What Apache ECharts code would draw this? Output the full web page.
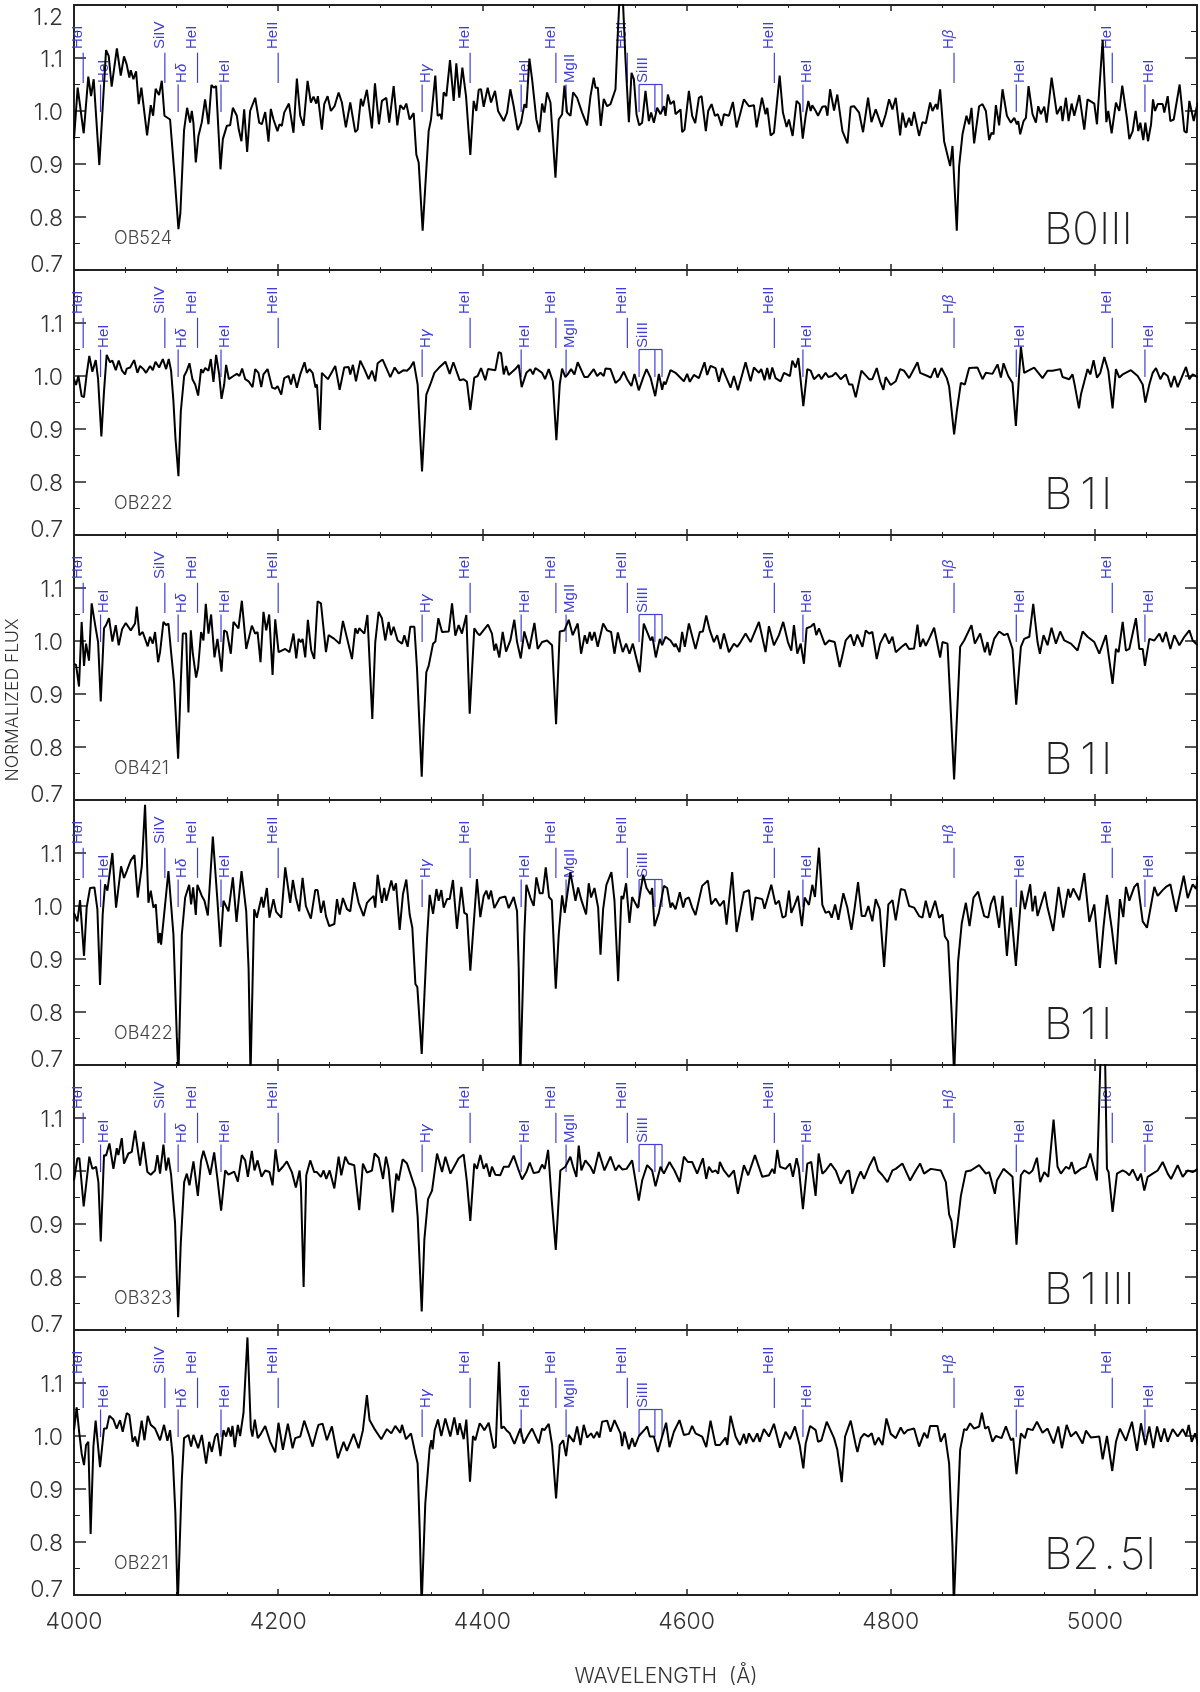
<!DOCTYPE html>
<html>
<head>
<meta charset="utf-8">
<title>Normalized spectra</title>
<style>
  html, body { margin: 0; padding: 0; background: #fff; }
  #chart { width: 1200px; height: 1692px; }
</style>
<script src="https://cdn.jsdelivr.net/npm/echarts@6/dist/echarts.min.js"></script>
</head>
<body>
<div id="chart"></div>
<script>
// spectra, [wavelength, flux]
const ob524 = [[4000,.947],[4003.6,1.044],[4009.5,.958],[4014,1.065],[4016.7,1.028],[4019.3,1.06],[4024.8,.898],[4031.4,1.115],[4034,1.104],[4036.9,1.046],[4042,1.118],[4045.8,1.067],[4049,1.103],[4051.6,1.088],[4054.2,1.063],[4055.6,1.077],[4058.2,1.06],[4060.8,1.075],[4063.4,1.013],[4066,1.044],[4071.6,.954],[4075.2,1.011],[4077.5,.991],[4080,1.042],[4083.3,1.03],[4086,1.057],[4088.6,.991],[4094.1,.984],[4098,.89],[4102.3,.777],[4104.2,.808],[4107.8,.964],[4110.8,1.006],[4113.7,.978],[4115.4,1],[4117,.977],[4119.3,.903],[4121.9,.953],[4125.2,.979],[4128.4,1.022],[4131.7,.975],[4134.6,1.049],[4136.9,1.044],[4139.2,1.047],[4143.5,.89],[4145.8,.947],[4149.7,.972],[4152.9,.973],[4155.6,1.006],[4159.5,.991],[4161.4,.965],[4164,.943],[4166.7,1.003],[4169.6,.923],[4172.5,1],[4177.5,1.025],[4181.4,.978],[4184,.975],[4187.3,.998],[4190.5,.942],[4192.8,1.004],[4195.4,.984],[4197,.987],[4199.3,.962],[4201.3,.975],[4203.6,.972],[4205.9,.997],[4210.5,1.014],[4215,.959],[4218.3,1.061],[4221.6,.991],[4224.8,.972],[4228.8,1.057],[4232,1.016],[4234.6,1.027],[4237.3,1.014],[4238.9,1.028],[4242.8,.965],[4245.1,1.013],[4248.4,1.028],[4251.6,1],[4255.2,1.009],[4259.2,1.035],[4262.4,1.016],[4266.3,.969],[4270.6,1.016],[4275.5,.96],[4277.8,.965],[4281,1.023],[4283,1.009],[4286.9,1.04],[4291.8,.967],[4294.8,1.052],[4298.7,.975],[4301.6,1.019],[4305.9,1.025],[4308.8,.978],[4313.1,1.047],[4316.7,.973],[4319.6,1.011],[4322.9,1.003],[4325.5,1.014],[4328.8,.984],[4332.7,.996],[4335.3,.918],[4337.6,.903],[4341.5,.774],[4344.1,.858],[4347.4,.962],[4349.7,.984],[4351.6,.981],[4353.9,1.067],[4356.2,.991],[4358.8,.994],[4360.1,.984],[4362.1,1.035],[4364.7,1.028],[4368.3,1.096],[4371.9,1.019],[4374.5,1.09],[4377.4,1.025],[4380.4,1.082],[4384,1.028],[4388.2,.917],[4391.5,1.019],[4394.1,1],[4396.4,1.04],[4398.7,1.041],[4401.3,1.008],[4405.2,1.044],[4408.5,1.016],[4412.4,1.038],[4415.4,1],[4420.9,.981],[4424.2,.997],[4427.4,1.041],[4430.7,1.009],[4434.6,.964],[4437.9,.978],[4441.2,1.013],[4443.1,1.006],[4446.1,1.099],[4448.7,1.06],[4452.9,.984],[4455.9,.96],[4458.5,1.014],[4460.8,.997],[4463.4,1.035],[4466.7,1.016],[4471.6,.874],[4474.8,.984],[4478.1,.994],[4480.4,1.048],[4483,.997],[4486.3,.991],[4488.9,1.035],[4492.8,1.025],[4497.7,.997],[4502.6,.973],[4505.9,1.028],[4509.1,1.063],[4510.8,1.044],[4513.1,1.044],[4516,.972],[4518.9,1.023],[4522.2,1.009],[4525.5,1.013],[4530.4,1.041],[4532.7,1.148],[4534.3,1.21],[4535.5,1.24],[4537.9,1.198],[4540.2,1.097],[4543.5,.979],[4546.1,1.072],[4548.4,1.06],[4551,.994],[4553.6,.973],[4556.5,.978],[4559.8,1.038],[4563.1,.981],[4565.3,.997],[4568,.978],[4571.2,1.006],[4574.5,.994],[4577.8,1.009],[4579.4,.991],[4581.7,1.031],[4584.3,1.013],[4587.6,1.019],[4589.2,.994],[4594.1,1.003],[4595.7,.96],[4598,.965],[4602.3,1.038],[4605.5,.991],[4608.5,.977],[4612.1,1.025],[4614.7,1.028],[4618.9,.962],[4621.2,1],[4624.5,1.013],[4627.8,.991],[4630.7,.994],[4634.3,.972],[4636.6,.994],[4641.5,.991],[4645.4,1.017],[4649,.969],[4652.9,.997],[4656.2,1.022],[4661.1,1.009],[4666,1.011],[4668.6,.969],[4673.9,1.025],[4677.4,.994],[4679.1,1.006],[4682.4,.954],[4685.6,.959],[4691.2,1.067],[4694.4,.997],[4698,.97],[4700.3,.984],[4703.9,.953],[4707.8,1.019],[4710.8,1.013],[4713.8,.948],[4716.7,.991],[4719.3,1.019],[4721.6,1],[4723.2,1.011],[4726.5,1],[4728.8,.991],[4733,1.008],[4736.3,1.009],[4738,.991],[4740.6,1.041],[4744.5,1.001],[4747.7,1.031],[4752.7,.962],[4757.6,.939],[4760.8,1.008],[4764.1,1.009],[4769,.997],[4772.9,.96],[4774.5,.96],[4777.8,1.025],[4781.1,.979],[4785.3,1.003],[4791.2,.97],[4795.1,.994],[4798.4,1.022],[4801.7,1.003],[4804.9,1.025],[4809.2,.954],[4811.5,.997],[4814.7,.969],[4818,.987],[4820.3,.972],[4822.9,.998],[4827.8,.953],[4831.1,.979],[4834.4,.977],[4838.6,1.016],[4840.9,1],[4844.2,1.013],[4845.8,1.003],[4848.4,1.041],[4852.3,.943],[4858.2,.896],[4860.5,.934],[4864.7,.774],[4867,.896],[4870.3,.956],[4874.2,.991],[4876.8,.975],[4879.1,1.006],[4881.7,.939],[4886.6,1.009],[4889.9,1.013],[4893.2,1],[4896.4,.945],[4898.7,.959],[4900.7,.956],[4903,1.011],[4906.2,.973],[4909.5,1.041],[4913.8,.991],[4917.7,.978],[4921,.987],[4923.6,.975],[4924.9,.981],[4926.8,.956],[4930.1,.981],[4932.4,.987],[4935,1.047],[4938.9,.994],[4942.2,.978],[4944.5,1.009],[4947.1,.994],[4950.4,1.008],[4952.7,.978],[4957.6,1.063],[4962.8,.994],[4966.7,1.009],[4968.3,.981],[4971.6,1.025],[4974.2,.981],[4977.2,1.014],[4979.8,.991],[4984.7,1.03],[4989.6,.965],[4992.8,1.022],[4999.4,1.014],[5002,.975],[5007.6,1.134],[5011.2,.979],[5013.1,1],[5016.4,.958],[5020.6,1.016],[5023.9,1],[5026.8,1.048],[5031.4,.986],[5033.7,.947],[5037,.962],[5039.9,1],[5042.5,.962],[5044.5,.978],[5047.4,.945],[5049.4,.978],[5052,.943],[5055,.975],[5056.9,1.022],[5058.9,1],[5061.5,1.013],[5066.4,1.013],[5068,.997],[5071.3,1.028],[5073.9,.981],[5077.2,.984],[5079.4,1.009],[5083,1.05],[5087.6,.962],[5089.9,.959],[5092.5,1.019],[5096.8,.981],[5100.7,1.016]];

const ob222 = [[4000,.994],[4002,.983],[4004.3,1],[4007.5,.962],[4009.8,.96],[4012.4,1.003],[4015,1.038],[4018,1.008],[4021.3,1.03],[4023.6,.994],[4026.8,.886],[4029.4,.971],[4032,1.04],[4035.3,1.026],[4037.6,1.029],[4040.9,1.011],[4043.8,1.029],[4047.1,1.01],[4050,1.003],[4051.7,1.014],[4055,1.016],[4058.9,1.03],[4062.1,1.006],[4064.7,1.019],[4068,1.013],[4070.6,1.006],[4074.5,1.019],[4077.2,1.011],[4079.8,1.027],[4083.4,1.016],[4087,1.032],[4090.2,1.013],[4092.8,1.032],[4095.1,1.01],[4097.4,.952],[4099.4,.882],[4102.3,.811],[4104.6,.933],[4107.9,1],[4110.5,1.01],[4113.1,1.024],[4116,.994],[4118.7,.984],[4121.6,.963],[4124.5,1.013],[4126.2,1.006],[4128.5,1.015],[4131.7,1.01],[4134,1.032],[4136.6,.989],[4139.2,1.04],[4142.2,1.003],[4144.5,.957],[4147.1,.984],[4149,1.021],[4151.7,.994],[4156.2,1],[4159.5,1.004],[4162.1,1],[4164.7,1.014],[4167.7,.994],[4171,.99],[4174.9,.979],[4177.5,1.013],[4180.7,1.006],[4183.4,.979],[4185.6,1.003],[4189.6,1.013],[4194.1,.978],[4197.1,.976],[4199.4,.981],[4203,.965],[4205.9,.996],[4210.2,1],[4212.5,.984],[4215,1.004],[4218.3,.978],[4221.6,1.003],[4225.8,1.026],[4228.1,1.006],[4230.7,1.013],[4233.7,1.006],[4236.6,.978],[4238,.984],[4240.9,.898],[4242.8,1.006],[4248.7,.994],[4255.9,1.019],[4260.2,.974],[4264.7,1.016],[4269,1.017],[4270.6,1.003],[4273.2,1.021],[4276.2,.99],[4280.4,1.029],[4284.4,1.013],[4288.6,.994],[4291.9,1.01],[4295.1,.99],[4297.4,1.024],[4302.3,1.031],[4309.8,.998],[4314.1,1.016],[4318,1.005],[4322.9,1.011],[4326.2,1.01],[4329.4,1.016],[4332.7,1.027],[4336.6,.984],[4339.2,.882],[4340.9,.82],[4342.5,.876],[4345.1,.965],[4349,.984],[4353,1.006],[4357.2,1.015],[4363.8,1.027],[4368,1.004],[4371.6,1.026],[4377.8,.992],[4381.7,.994],[4384.9,.989],[4388.2,.936],[4392.1,.997],[4395.4,1],[4398.7,1.015],[4402.9,.992],[4405.5,1.013],[4412.7,1.011],[4416,1.045],[4418.3,1.043],[4420.9,1.003],[4423.2,1.019],[4425.8,1.002],[4432.3,1.013],[4435.6,1.021],[4438.5,.979],[4443.1,1.006],[4447,1.013],[4449.6,1.003],[4451.9,1.015],[4458.5,1.006],[4461.4,.994],[4465,1.013],[4469,.99],[4472.5,.879],[4475.8,.984],[4478.1,1.014],[4481.3,.998],[4483.6,1.003],[4486.9,1.013],[4490.2,1.003],[4493.4,1.026],[4500,.998],[4503.2,.998],[4509.1,1.013],[4512.4,1],[4515.7,1.006],[4518.9,1],[4520.6,1.014],[4525.5,1.013],[4530.4,.987],[4534.6,.994],[4538.5,1.008],[4541.8,.994],[4546,.981],[4549,1.004],[4553.2,.973],[4557.5,.997],[4560.8,1.013],[4564.7,.997],[4569.3,.962],[4572.9,1.004],[4576.1,.974],[4577.8,.989],[4579.4,.984],[4584.3,1.011],[4589.2,1.006],[4597.4,.99],[4600.6,1.004],[4603.2,.989],[4607.2,1.002],[4612.1,.996],[4617.6,1.026],[4620.2,1.002],[4623.5,1.019],[4628.4,1.015],[4631.7,.989],[4635,1.015],[4643.1,.978],[4646.4,1],[4650.3,.973],[4657.8,1.026],[4662.7,.99],[4666,1.016],[4670.9,1.006],[4673.2,1.013],[4676.4,.992],[4679,1.015],[4681.4,.994],[4684,1.016],[4687.2,.996],[4692.1,.99],[4695.4,1.006],[4701.3,1],[4703.6,1.029],[4706.8,1.016],[4709.5,1.034],[4714.4,.943],[4718.3,1.013],[4721.6,1.01],[4724.8,.994],[4729.7,1.003],[4732,.994],[4736.2,1.006],[4738.9,.998],[4742.8,1],[4746.1,1.006],[4751,.994],[4755.9,1.003],[4759.2,.984],[4762.4,.984],[4765.7,.96],[4771.3,1.01],[4778.8,.994],[4782,.994],[4786.3,1.015],[4789.6,.99],[4792.8,.974],[4795.1,.998],[4800,.983],[4804.9,.99],[4809.2,1.013],[4813.1,1.01],[4818,.996],[4826.2,1.026],[4828.8,1.006],[4836,1],[4839.2,.997],[4843.2,1.015],[4845.8,.997],[4849.7,1.015],[4854.9,.996],[4857.2,.98],[4862.1,.89],[4864.7,.933],[4868.7,.987],[4872.6,.984],[4876.8,1.015],[4885,1.016],[4889.9,.994],[4893.2,1.006],[4899.7,1.004],[4904.6,1.022],[4907.9,.997],[4910.5,1.024],[4915.1,1],[4919.3,.987],[4922.6,.906],[4927.5,1.055],[4930.7,1.006],[4935.7,1.011],[4940.5,1.016],[4948.7,.996],[4953.6,1.01],[4958.5,1.01],[4966.1,1.013],[4968.3,.998],[4974.9,.994],[4978.1,1.003],[4980.4,.981],[4984.4,.939],[4986.3,.965],[4992.8,1.013],[4995.5,1.003],[4998.7,1.03],[5002,.997],[5005.3,1.006],[5009.2,1.036],[5013.1,1.01],[5017.3,.939],[5020.6,1.013],[5023.9,.997],[5027.2,1.003],[5035.3,1.011],[5041.9,1],[5046.8,.984],[5049.4,.95],[5053.3,.984],[5056.6,1.006],[5059.8,1.015],[5064.1,.994],[5067.4,1.006],[5071.3,1],[5074.6,.979],[5077.8,1],[5081.1,.979],[5089.2,1.017],[5092.5,.994],[5095.8,1.003],[5100.7,.998]];

const ob421 = [[4000,.957],[4002,.955],[4004.9,.914],[4007.5,1.036],[4009.8,.953],[4011.8,.995],[4014.7,.963],[4017.3,1.071],[4021.6,1.02],[4023.6,.998],[4026.2,.886],[4029.4,1.024],[4031.4,1.03],[4034.3,1.043],[4037.6,.999],[4040.9,1.03],[4043.8,.992],[4047.1,1.022],[4050.7,1.034],[4055.6,1.02],[4059.8,1.033],[4061.5,1.065],[4064.1,1.011],[4067.3,1.017],[4072.2,.99],[4074.5,1.008],[4077.2,.995],[4079.4,1.017],[4082.4,.96],[4084.3,.979],[4087.6,1.036],[4090.2,1.03],[4092.5,1.033],[4095.1,.979],[4098,.922],[4102,.778],[4104.6,.922],[4106.6,1.014],[4109.8,1.014],[4112.1,.865],[4114.4,1.02],[4116.4,.976],[4119.6,.931],[4121.6,.95],[4124.5,1.017],[4126.8,1.001],[4129.1,1.07],[4131.7,1.014],[4134.3,1.05],[4137.6,.969],[4140.5,1.004],[4144.5,.942],[4147.1,1.02],[4149.7,1.017],[4153.6,.976],[4156.2,1.036],[4161.1,1.024],[4164.4,1.076],[4168.7,.985],[4174.2,1.029],[4177.5,1.014],[4179.8,1.017],[4182.7,.96],[4185.6,1.055],[4188.3,1.02],[4191.2,1.05],[4194.5,.936],[4197.1,1.041],[4200.4,.979],[4206.9,.985],[4211.1,.979],[4215,1.014],[4217.7,.967],[4220,1.004],[4222.3,.998],[4223.9,1.004],[4226.5,.969],[4229.1,1.04],[4232.4,.982],[4235.3,.966],[4238.6,1.075],[4241.9,1.071],[4246.8,.979],[4249.4,1.011],[4255,1.004],[4260.2,.995],[4263.4,1.038],[4272.3,.966],[4275.5,1.024],[4277.8,1.014],[4279.4,1.024],[4284.4,1.014],[4287.4,1.049],[4292.2,.853],[4295.1,.998],[4298.4,1.055],[4301.6,1.043],[4304.9,1.001],[4308.2,1.036],[4310.5,1.011],[4313.1,1.027],[4317,1.001],[4321.3,.995],[4323.6,1.011],[4326.8,.989],[4329.4,1.027],[4333.4,1.027],[4336,.947],[4340.6,.744],[4342.5,.839],[4345.1,.941],[4347.4,.953],[4351.7,.995],[4354,.999],[4356.9,1.043],[4360.5,1.017],[4367.1,1.018],[4370.3,1.071],[4373.5,1.01],[4376.8,1.03],[4380,1.014],[4384.3,1.049],[4387.6,.863],[4392.1,1.024],[4395.4,1.014],[4397.4,1.011],[4405.5,1.031],[4409.4,1.014],[4411.7,.982],[4413.4,.995],[4416.6,.969],[4419.9,1.017],[4423.2,.98],[4427.4,1.001],[4431.3,1.04],[4434,.998],[4437.6,.967],[4441.1,1.018],[4446,.985],[4451,1.034],[4454.2,.985],[4458.5,.998],[4463.4,1.001],[4468.3,.992],[4472.2,.843],[4475.8,1.018],[4480.4,1.02],[4484.6,1.04],[4488.5,1.011],[4493.4,1.033],[4496.7,.976],[4500.3,1.011],[4502.6,.995],[4505.2,1.017],[4507.2,1.001],[4509.8,1.017],[4513,.989],[4518.3,1.033],[4522.2,1.02],[4526.1,1.017],[4529.4,.976],[4532.7,1.016],[4537.5,.979],[4540.8,.995],[4544.1,.976],[4547.4,.995],[4550.6,.969],[4554.2,.941],[4558.1,1.033],[4564.7,1.001],[4566.6,1.008],[4569.9,.969],[4573.8,1.004],[4576.1,.992],[4579.4,1.008],[4584.3,1.001],[4588.2,.989],[4589.2,.995],[4593.1,.979],[4595.7,1.017],[4598.3,.989],[4602.3,1.033],[4608.8,.985],[4613,1.017],[4616,1.018],[4619.3,1.048],[4622.8,1.02],[4626.8,.998],[4630,1.011],[4633.3,.985],[4636.6,1.014],[4641.5,.979],[4646.4,.995],[4649.6,.989],[4652.9,.998],[4657.8,1.014],[4662.7,.998],[4670.9,1.036],[4677.4,.979],[4680.7,1.028],[4685.6,.992],[4690.5,1.011],[4694.7,1.036],[4699.3,.998],[4702.6,.982],[4705.2,1.03],[4708.5,.976],[4711.8,.995],[4715,.957],[4717.6,1.024],[4721.6,1.027],[4724.8,1.033],[4727.1,1.011],[4729.7,1.024],[4735.6,.993],[4739.6,1.001],[4745.1,.998],[4750,.951],[4752.6,.972],[4755.9,1.001],[4760.8,1.012],[4764.1,.991],[4767.3,1.012],[4772.3,.989],[4775.5,1.02],[4778.8,1.014],[4782,1.017],[4786.3,.966],[4789.6,.995],[4794.5,1.014],[4798.4,.995],[4801.7,1.008],[4804.9,.979],[4810.8,.989],[4814.7,.995],[4818,.985],[4822.9,.986],[4826.2,1.031],[4828.8,.989],[4831.7,1.004],[4834.3,.991],[4837.6,1.004],[4842.5,1.025],[4848.4,.969],[4850.7,.998],[4855.6,.995],[4862.1,.739],[4868,.989],[4871.9,1.001],[4879.1,1.03],[4882.4,.995],[4887.6,1.014],[4892.2,.979],[4894.8,.998],[4897.1,.973],[4901.3,1.004],[4906.2,1.018],[4911.1,1.011],[4914.4,1.014],[4919.3,.985],[4922.9,.88],[4927.5,.989],[4930.7,1.004],[4935.7,1.008],[4939.6,1.07],[4943.8,.998],[4946.1,.976],[4949.7,1.011],[4953.6,.992],[4957.5,1.025],[4961.8,.995],[4966,1.018],[4970,1.001],[4976.5,.995],[4983,.982],[4988,1.018],[4992.8,1.008],[4999.4,.998],[5004.3,.976],[5010.8,1.011],[5017.3,.919],[5020.6,.985],[5023.2,.979],[5027.2,1.036],[5030.4,.982],[5033.7,.985],[5040.2,1.043],[5043.5,.985],[5046.8,.985],[5049,.953],[5053.3,1.004],[5058.2,1.001],[5063.1,1.014],[5066.4,.998],[5069.6,1.017],[5073.9,.985],[5077.8,1.011],[5082.7,.992],[5087.6,1.008],[5092.5,1.02],[5095.8,1.001],[5100.7,.992]];

const ob422 = [[4000,.987],[4003.3,.971],[4005.9,1.011],[4009.8,.906],[4012.4,.997],[4015.7,1.034],[4020,1.035],[4022.9,.994],[4025.5,.851],[4028.1,.984],[4030.4,1.041],[4032.7,1.029],[4037.6,1.1],[4041.2,.997],[4046.1,1.075],[4049,1.053],[4051.7,1.066],[4055.6,1.086],[4059.2,1.096],[4062.4,1.016],[4066.4,1.075],[4069.6,1.191],[4072.9,1.006],[4075.2,1.029],[4077.8,.997],[4080.1,1.003],[4082.7,.93],[4084.3,.949],[4085.3,.927],[4087.6,.971],[4092.5,1.066],[4097.4,.946],[4100.7,.754],[4102.3,.68],[4103.9,.68],[4105.6,.946],[4108.9,1.016],[4112.8,1.04],[4114.7,1.003],[4116.7,1.035],[4119.3,.983],[4120.9,1.04],[4125.2,1.019],[4127.8,1.01],[4131.1,.982],[4136,1.131],[4137.6,1.131],[4140.5,1.01],[4143.5,.923],[4146.4,1.01],[4151.3,.99],[4155.6,1.054],[4159.2,.97],[4164.1,1.066],[4168.7,.99],[4171,.882],[4172.9,.68],[4174.5,.68],[4176.5,.994],[4179.1,.978],[4183.7,1.017],[4185.6,.997],[4188.9,1.034],[4191.5,.978],[4195.4,1.013],[4198,.989],[4203,.978],[4206.9,1.073],[4211.8,1.006],[4214.4,1.049],[4217.3,1.016],[4220.6,.99],[4223.9,1.053],[4227.1,1],[4232,.976],[4236.3,1.03],[4238.6,1.03],[4241.9,.987],[4244.5,1.01],[4246.8,.981],[4250,.962],[4255,.966],[4257.6,1.013],[4260.2,.984],[4263.4,1.015],[4267.4,.994],[4270.6,.99],[4274.5,1.045],[4278.8,1.006],[4283.7,.981],[4287,1.006],[4290.2,1.013],[4293.5,1.019],[4295.1,.997],[4297.4,1.059],[4301.6,1.006],[4303.9,1.034],[4305.9,1.01],[4310.8,1.048],[4313.1,1.029],[4315.4,1.043],[4319,.955],[4322.2,1.022],[4325.5,1.05],[4328.8,.984],[4331.4,.959],[4334.4,.853],[4336.3,.847],[4340.6,.721],[4345.8,.939],[4348.4,1.021],[4351.7,.985],[4355,1.032],[4357.2,1.01],[4359.8,1.03],[4362.1,.997],[4365.4,1.013],[4368,1.013],[4371.2,1.049],[4375.1,.957],[4379.4,1.036],[4382.3,.987],[4384.9,.984],[4388.2,.878],[4394.7,1.051],[4398,.979],[4401.3,1.019],[4403.9,1.029],[4406.2,1.013],[4408.5,1.029],[4411.7,.996],[4417,1.015],[4422.5,1.018],[4425.8,.996],[4430.7,1.017],[4434,.99],[4435.6,.882],[4437.2,.68],[4438.9,.68],[4441.1,.946],[4443.1,1.04],[4447,1.016],[4450.3,1],[4452.9,1.054],[4456.2,1.024],[4459.1,1.024],[4462.1,1.073],[4465.3,1.017],[4468,1.011],[4471.9,.844],[4474.8,.946],[4478.1,1.02],[4480.7,.987],[4486.2,1.064],[4491.2,1.01],[4493.8,1.035],[4497,1.011],[4501.6,.984],[4504.2,1.043],[4506.5,1.016],[4509.8,1.034],[4513.4,.997],[4515.7,.908],[4518.3,.994],[4521.5,1.04],[4526.4,1.064],[4529.4,1.01],[4533,.858],[4536.2,1.019],[4537.9,1.013],[4540.8,1.043],[4544.1,.968],[4546.7,1.017],[4552.3,.996],[4557.5,1.059],[4560.8,1.034],[4564.7,1.022],[4566.3,1.034],[4568.6,.962],[4572.9,.987],[4577.8,1.038],[4581,1.034],[4584.3,.997],[4585.9,1.006],[4589.2,.994],[4593.4,1.026],[4596.7,.997],[4599,1.013],[4602.3,1.016],[4605.5,.997],[4608.8,.983],[4615.3,1.038],[4620.9,1.048],[4624.2,1.003],[4628.4,1.014],[4632.6,1],[4636.6,1.01],[4639.2,.965],[4644.7,1.064],[4649,.951],[4656.2,1.026],[4661.1,1.03],[4664.3,.973],[4667.6,1.016],[4674.2,1.013],[4676.4,.995],[4683,1.04],[4687.2,1.003],[4690.5,1.01],[4694.1,.978],[4697,.981],[4700.3,1.029],[4702.6,.987],[4705.9,1.002],[4709.1,1.019],[4713,.962],[4715.7,1.016],[4719.9,1.002],[4723.2,1.04],[4725.8,1.017],[4729.7,1.11],[4733,1.002],[4736.2,.987],[4739.6,.99],[4742.2,.978],[4745.5,1.003],[4748.7,.974],[4753.6,1.024],[4757.5,.997],[4761.5,.955],[4764.7,.997],[4768,1.045],[4771.6,.981],[4774.9,.981],[4778.1,1],[4782,.971],[4785.3,1.013],[4789.2,.994],[4793.5,.885],[4797.7,1.003],[4801.7,1.011],[4804.9,.973],[4809.8,1.032],[4813.8,1.03],[4818,1],[4822.9,.997],[4827.8,.981],[4831.1,.978],[4834.3,1.01],[4838.3,.978],[4843.5,1.01],[4847.4,.978],[4850.7,.984],[4853,.943],[4856.2,.933],[4859.8,.793],[4862.1,.68],[4863.8,.68],[4866,.895],[4869.6,.968],[4873.6,1.006],[4877.2,.962],[4881.1,1.016],[4885.6,1.027],[4891.5,.981],[4895.5,.978],[4898.1,1.004],[4901.3,1.019],[4906.2,.959],[4909.5,1.019],[4913.8,.906],[4917.7,.997],[4922.6,.887],[4928.1,1.029],[4931.4,.994],[4936.6,1.041],[4938.9,.99],[4941.5,1.019],[4943.8,.981],[4951,1.027],[4953.6,.997],[4959.2,.953],[4964.4,1.036],[4969,.978],[4973.9,1.032],[4975.8,1.016],[4978.8,1.033],[4984.7,1.011],[4989.6,1.062],[4994.5,.97],[4999.4,1.003],[5004.9,.883],[5008.5,.962],[5011.8,1.021],[5016.7,.955],[5020.6,.89],[5024.5,1.013],[5027.8,.979],[5030.4,1.036],[5033.7,1.01],[5038.6,1.036],[5041.9,1.043],[5046.8,.971],[5051,.959],[5058.2,1.036],[5061.5,1.019],[5066.4,1.03],[5069.6,1.036],[5073.9,1.041],[5079.5,.989],[5087,1.057],[5090.9,1.015],[5095.8,1.041],[5099,1.032],[5101.3,1.057]];

const ob323 = [[4000,.982],[4003.3,1.024],[4005.3,1.024],[4009.5,.933],[4015,1.027],[4018,1.004],[4021.6,1.008],[4023.9,.979],[4026.2,.867],[4029.4,1.03],[4031.4,1.029],[4034.7,1.052],[4038.6,1.004],[4041.9,1.043],[4043.5,1.03],[4046.8,1.062],[4049,1.014],[4053.3,1.033],[4056.6,1.036],[4059.8,1.076],[4064.7,1.01],[4068,1.055],[4071.9,.998],[4075.2,.993],[4079.4,1.001],[4081.7,1.03],[4084.3,.995],[4087.6,1.05],[4090.2,1.001],[4092.5,1.025],[4095.1,.993],[4099,.902],[4102,.724],[4104.6,.864],[4107.9,.979],[4110.5,.995],[4113.1,.973],[4117,1.018],[4121.3,.953],[4124.5,1.02],[4126.8,1.038],[4130.1,1.017],[4133.4,.993],[4137.3,1.035],[4140.5,.985],[4144.1,.925],[4148.1,1.001],[4151.3,.993],[4156.9,.999],[4160.5,.98],[4164.4,1.03],[4167.7,1.02],[4170.3,.989],[4174.2,1.038],[4176.8,1.001],[4179.8,1.02],[4183.7,.989],[4187.3,1.001],[4191.5,.998],[4194.5,.973],[4197.4,1.041],[4200.4,.999],[4204.6,1.008],[4208.5,1.018],[4213.4,.998],[4217.3,.969],[4221,1.001],[4222.3,.969],[4224.9,.781],[4227.5,.992],[4231.4,1.02],[4235.3,.998],[4237.9,.998],[4241.9,.989],[4244.5,1.001],[4247.1,.985],[4250.4,1.001],[4255,.967],[4259.2,1.027],[4261.8,.992],[4265.7,1.027],[4269,1.014],[4274.5,1.011],[4279.4,.926],[4283,1.014],[4287,.997],[4291.9,1.001],[4294.5,1.033],[4298.4,1.025],[4302.7,.985],[4305.6,1.027],[4308.2,1.004],[4312.1,.922],[4315.7,.995],[4318,.982],[4321.9,1.022],[4326.2,1.014],[4334.4,.966],[4336.6,.915],[4340.6,.735],[4343.2,.871],[4346.8,.947],[4350.7,.963],[4355.6,1.033],[4360.5,.998],[4363.8,1.027],[4368.7,.995],[4376.8,1.024],[4381.7,1.031],[4384.9,.979],[4388.2,.906],[4392.1,1.014],[4394.7,1.004],[4398,1.03],[4401.3,1.004],[4403.9,1.014],[4407.2,.989],[4409.4,1.008],[4412.7,.993],[4417.6,.992],[4420.9,1.008],[4425.8,1.008],[4430.7,1.029],[4435.6,1.001],[4438.9,.984],[4443.1,.998],[4446.4,1.016],[4450.3,.996],[4455.2,.998],[4458.5,1.012],[4461.1,1.004],[4464.4,1.04],[4467.6,.953],[4471.9,.851],[4476.4,1.001],[4481.3,1.008],[4486.2,1.027],[4488.9,1.008],[4492.1,.989],[4494.4,1.048],[4497,1.001],[4500.9,1.02],[4505.9,1.008],[4509.1,.995],[4514,1.036],[4519.6,1.001],[4525.5,1.027],[4530.4,1.001],[4533.6,1.011],[4537,1.003],[4541.2,1.004],[4546.7,1.02],[4550,.982],[4553.2,.944],[4556.5,.982],[4561.4,1.011],[4566.3,1.001],[4569.6,.971],[4574.5,1.008],[4577.8,.995],[4583.3,1.017],[4588.2,1.001],[4593.4,.979],[4597.4,1.027],[4601.3,1.017],[4605.5,1.017],[4610.4,.995],[4616,1.024],[4619.3,.985],[4621.9,1.008],[4625.1,.998],[4628.4,1.001],[4631,.995],[4632.6,1.017],[4636.6,1.001],[4641.5,.989],[4646.4,1.001],[4650.3,.957],[4656.2,1.011],[4660.4,.992],[4667,1.03],[4674.2,.989],[4680.7,.992],[4684,1.004],[4686.2,.995],[4688.9,1.04],[4691.5,1.008],[4697,1.004],[4701.3,1.014],[4704.2,.989],[4707.8,1.024],[4710.1,1.004],[4714,.928],[4718.3,1.014],[4722.2,1.017],[4726.4,.953],[4729.4,1.033],[4733,.995],[4736.3,1.001],[4741.2,1.014],[4746.1,1.001],[4751,.976],[4756.9,.999],[4759.2,1.001],[4762.4,.957],[4767.3,.985],[4770.6,.999],[4773.9,.985],[4779.4,1.011],[4783.7,1.027],[4787.6,1.001],[4791.9,.992],[4796.8,.979],[4801.7,1.001],[4804.9,1.004],[4811.5,1.014],[4819,.982],[4824.5,1.001],[4828.8,1.014],[4832.7,.995],[4839.2,1.004],[4849,1.001],[4854,.979],[4857.2,.918],[4859.5,.906],[4862.1,.855],[4865.4,.899],[4868.7,.953],[4873.6,.999],[4878.5,1.001],[4886.6,1.011],[4893.2,.995],[4896.4,.998],[4902,.957],[4904,.982],[4910.5,1.004],[4916,.995],[4919.3,.989],[4923.2,.861],[4927.5,.992],[4930.7,1.001],[4935.7,.995],[4938.9,1.001],[4943.2,1.025],[4946.4,.979],[4950.4,.998],[4954.3,.989],[4959.5,1.097],[4963.4,1.008],[4966.7,.995],[4971.6,1.008],[4974.9,1.004],[4977.2,1.017],[4980.4,.995],[4986.3,1.004],[4991.2,1.008],[4995.5,1.033],[5002,.982],[5005.3,1.2],[5005.9,1.23],[5009.8,1.23],[5011.8,1.004],[5013.4,.998],[5017.3,.923],[5021.6,.995],[5027.2,1.001],[5030.4,.998],[5033.7,.992],[5037,1.003],[5041.9,.982],[5045.1,.995],[5048.4,.963],[5051.7,.989],[5056.6,.995],[5061.5,1.001],[5066.4,1.017],[5071.3,.995],[5074.6,.985],[5081.1,1.011],[5086,.989],[5090.9,1.001],[5095.8,.998],[5100.7,1.004]];

const ob221 = [[4000,1.011],[4002.6,1.054],[4005.2,1.005],[4007.5,.967],[4009.8,.945],[4011.8,.983],[4014,.989],[4016.3,.815],[4019,.98],[4021.2,1.029],[4025.5,.941],[4029.4,1.014],[4032,1.014],[4034.6,1.038],[4038.6,1.031],[4041.8,1.014],[4045.1,1.03],[4047.7,1.008],[4051.6,1.043],[4054.2,1.04],[4057.5,.989],[4059.8,.999],[4062.4,.98],[4066.3,1.029],[4069,.992],[4072.2,1.038],[4075.2,1.021],[4079.4,1.014],[4084.3,.992],[4088.2,1.021],[4091.5,.991],[4094.1,1.011],[4096.7,.961],[4099.3,.854],[4101.6,.68],[4102.9,.68],[4105.6,.917],[4107.8,.996],[4112.1,1.002],[4114.7,.98],[4117,1.002],[4121.6,.977],[4125.2,1.002],[4129.4,.948],[4132.4,.989],[4135,.97],[4138.2,.999],[4140.5,1.005],[4143.5,.962],[4146.4,1.011],[4149,.999],[4151.3,1.016],[4153.6,.999],[4155.2,1.019],[4157.5,.979],[4160.5,1.021],[4162.7,1],[4166,1.043],[4169.9,1.186],[4173.2,1.014],[4174.8,.999],[4177.1,1.031],[4180,.996],[4183.3,1.005],[4187.3,1.019],[4192.2,.989],[4197.1,.969],[4200.3,1.025],[4204.6,.974],[4209.5,1.023],[4214.1,.977],[4216.7,.996],[4221.6,.999],[4225.5,1.029],[4229.7,1.005],[4233.7,.98],[4237.9,1.011],[4239.5,1.021],[4243.5,1.023],[4247.7,.992],[4252.6,1.018],[4258.5,.958],[4264.1,.989],[4267.3,.972],[4273.9,1.004],[4278.8,.977],[4283,1.011],[4286.9,1.077],[4289.5,1.03],[4294.1,1.014],[4301,.994],[4306.5,1.013],[4310.8,1.005],[4314.7,1.019],[4319.6,1.006],[4321.3,1.021],[4325.2,.994],[4330.1,1.005],[4334.3,.967],[4336.6,.948],[4338.6,.823],[4340.5,.68],[4341.8,.68],[4344.1,.873],[4348.4,.977],[4350,.992],[4351.3,.975],[4353.3,1.011],[4356.5,1.031],[4359.8,1],[4363.7,1.033],[4368.6,.999],[4372.5,1.035],[4375.8,1.002],[4377.8,1.024],[4381.7,.994],[4384.3,1.031],[4387.9,.914],[4390.8,1],[4393.1,.992],[4397.4,1.024],[4399.7,1.018],[4402,1.011],[4406.2,1.025],[4411.1,.977],[4413.1,.98],[4416.3,1.14],[4418.6,1.014],[4420.9,1.018],[4423.5,1.011],[4426.8,1.005],[4431.4,.985],[4437.2,1.014],[4440.5,.986],[4444.8,1.002],[4448.7,1.014],[4455.2,.986],[4458.5,1.014],[4460.8,1.011],[4465,1.023],[4468.3,.983],[4472.2,.882],[4475.8,.983],[4479.1,.992],[4482,.962],[4484.6,1.002],[4489.5,.989],[4492.8,1.018],[4496.1,.983],[4499.3,1.021],[4502.6,.997],[4506.5,1.005],[4509.1,.996],[4512.4,1.008],[4514.7,.997],[4517.3,1.027],[4522.2,1.029],[4525.5,1.008],[4529.4,1.03],[4535.3,1.005],[4536.9,.981],[4539.2,1.008],[4543.5,.975],[4546.7,.996],[4549.3,.98],[4553.3,1],[4559.8,1.014],[4561.4,1.018],[4564,.999],[4568,.999],[4571.9,.97],[4576.1,.999],[4580,1.025],[4583.3,.979],[4587.6,1.008],[4593.1,1.03],[4597.4,1.002],[4602.3,1.004],[4605.5,1.019],[4608.8,1.005],[4615.3,.999],[4619.3,.979],[4623.5,1.029],[4628.4,.983],[4632.7,.983],[4638.2,.997],[4639.9,.983],[4643.1,1.038],[4648,.999],[4652.3,.983],[4656.2,1.004],[4658.5,.986],[4661.1,1.005],[4665.4,.989],[4669.3,1.005],[4671.6,.989],[4675.8,1.013],[4680.7,.999],[4685.6,1.023],[4691.5,.978],[4697,1.008],[4701.3,.994],[4706.2,1.018],[4710.8,.983],[4714.4,.939],[4716.7,.986],[4721,1.019],[4726.5,1.011],[4728.8,.989],[4732.1,.992],[4737.3,1.027],[4744.5,.996],[4747.7,.974],[4752,.913],[4755.3,.999],[4760.8,1.029],[4765.7,.983],[4767.4,.97],[4770.6,.996],[4773.9,1.004],[4778.1,.999],[4781.4,1.005],[4784.4,.983],[4788,.997],[4791.9,.983],[4795.8,1.033],[4800,1.004],[4804.9,.996],[4809.8,1.016],[4813.1,1.004],[4816.4,1.011],[4822.9,1.014],[4827.8,.98],[4832.7,1.006],[4836,.996],[4838.6,1.019],[4845.8,1.019],[4849,.989],[4853,1.005],[4857.2,.948],[4860.5,.791],[4861.8,.68],[4863.1,.68],[4865.4,.854],[4868,.974],[4871.9,1.013],[4874.2,1.011],[4877.8,1.024],[4881.7,1.014],[4886.6,1.018],[4889.3,1.044],[4892.5,1.014],[4895.5,1.018],[4899.7,.989],[4903,1],[4908.5,.996],[4912.8,1.018],[4917.7,.992],[4920,.996],[4923.2,.928],[4927.5,1.005],[4931.4,.996],[4934,1.014],[4938.9,1.011],[4943.2,1.027],[4948.7,1.006],[4953.6,1.014],[4959.5,.986],[4964.1,1.018],[4967.7,.977],[4972.3,1.021],[4976.5,.999],[4981.4,1.008],[4987.9,.986],[4991.2,1.01],[4996.1,.997],[5004.3,.999],[5007.6,.956],[5011.8,1],[5017,.934],[5020.6,.989],[5024.5,1.014],[5030.4,.991],[5036.3,1.027],[5041.2,.972],[5045.1,1.024],[5049.4,.983],[5053.3,1.018],[5057.2,.977],[5060.9,1.018],[5064.7,.989],[5068,1.014],[5071.3,.989],[5076.2,1.013],[5081.1,.999],[5086,1.013],[5089.3,1],[5091.9,1.021],[5094.8,.989],[5098.1,1.005],[5101.4,.983]];

const spectra = [ob524, ob222, ob421, ob422, ob323, ob221];
const obNames = ['OB524', 'OB222', 'OB421', 'OB422', 'OB323', 'OB221'];
const spTypes = ['B0III', 'B\u20091\u200AI', 'B\u20091\u200AI', 'B\u20091\u200AI', 'B\u20091\u200AIII', 'B2\u200A.\u200A5I'];

// line ids: upper row sits higher, lower row sits just over the continuum
const upperNames = ['HeI', 'SiIV', 'HeI', 'HeII', 'HeI', 'HeI', 'HeII', 'HeII', 'H{g|β}', 'HeI'];
const upperWaves = [4009, 4089, 4121, 4200, 4388, 4472, 4542, 4686, 4862, 5017];
const lowerNames = ['HeI', 'H{g|δ}', 'HeI', 'H{g|γ}', 'HeI', 'MgII', 'HeI', 'HeI', 'HeI'];
const lowerWaves = [4026, 4102, 4144, 4341, 4438, 4482, 4714, 4923, 5049];
const siiiWaves = [4553.5, 4569, 4576];

const panelTops = [5, 270, 535, 800, 1065, 1330];
const panelHeight = 265;
const font = 'Inter, "Liberation Sans", sans-serif';
const blue = '#3f3fd6';

const chart = echarts.init(document.getElementById('chart'));

const grid = [], xAxis = [], yAxis = [], series = [], graphic = [];

function idsItem(params, api) {
  const i = params.dataIndex;
  const upper = i < upperWaves.length;
  const lowerI = i - upperWaves.length;
  const isSi = lowerI >= lowerWaves.length;
  const children = [];
  const stroke = { stroke: blue, lineWidth: 1.2 };
  const vline = (w, lo, hi) => {
    const a = api.coord([w, lo]), b = api.coord([w, hi]);
    children.push({ type: 'line', silent: true, shape: { x1: a[0], y1: a[1], x2: b[0], y2: b[1] }, style: stroke });
  };
  const label = (w, f, text, dx) => {
    const p = api.coord([w, f]);
    children.push({
      type: 'text', silent: true, x: p[0] + dx, y: p[1], rotation: Math.PI / 2,
      style: {
        text: text, fill: blue, font: '15px "Liberation Sans", sans-serif',
        align: 'left', verticalAlign: 'bottom',
        rich: { g: { fontStyle: 'italic', fontSize: 15, fill: blue, fontFamily: '"Liberation Sans"' } }
      }
    });
  };
  if (isSi) {
    siiiWaves.forEach(w => vline(w, 0.998, 1.05));
    const a = api.coord([siiiWaves[0], 1.05]), b = api.coord([siiiWaves[2], 1.05]);
    children.push({ type: 'line', silent: true, shape: { x1: a[0], y1: a[1], x2: b[0], y2: b[1] }, style: stroke });
    label(siiiWaves[0], 1.053, 'SiIII', 11);
  } else if (upper) {
    vline(upperWaves[i], 1.053, 1.11);
    label(upperWaves[i], 1.117, upperNames[i], 2);
  } else {
    vline(lowerWaves[lowerI], 0.998, 1.05);
    label(lowerWaves[lowerI], 1.053, lowerNames[lowerI], 11);
  }
  return { type: 'group', children: children };
}

const idsData = upperWaves.concat(lowerWaves, [siiiWaves[0]]).map(w => [w, 1]);

panelTops.forEach((top, p) => {
  const last = p === panelTops.length - 1;
  grid.push({ left: 74, width: 1123, top: top, height: panelHeight, containLabel: false });

  const xCommon = {
    type: 'value', gridIndex: p, min: 4000, max: 5100, interval: 200,
    axisLine: { onZero: false, lineStyle: { color: '#222', width: 2 } },
    axisTick: { inside: true, length: 6, lineStyle: { color: '#222', width: 1.5 } },
    minorTick: { show: true, splitNumber: 4, length: 3, lineStyle: { color: '#222', width: 1 } },
    splitLine: { show: false }, minorSplitLine: { show: false }
  };
  xAxis.push(Object.assign({}, xCommon, {
    position: 'bottom',
    axisLabel: {
      show: last, margin: 16, fontFamily: font, fontWeight: 300, fontSize: 23, color: '#333',
      showMinLabel: true, showMaxLabel: false, formatter: v => String(v)
    }
  }));
  xAxis.push(Object.assign({}, xCommon, { position: 'top', axisLabel: { show: false } }));

  const yCommon = {
    type: 'value', gridIndex: p, min: 0.7, max: 1.2, interval: 0.1,
    axisLine: { onZero: false, lineStyle: { color: '#222', width: 2 } },
    axisTick: { inside: true, length: 12, lineStyle: { color: '#222', width: 1.5 } },
    minorTick: { show: true, splitNumber: 2, length: 6, lineStyle: { color: '#222', width: 1 } },
    splitLine: { show: false }, minorSplitLine: { show: false }
  };
  yAxis.push(Object.assign({}, yCommon, {
    position: 'left',
    axisLabel: {
      margin: 11, fontFamily: font, fontWeight: 300, fontSize: 23, color: '#333',
      lineHeight: 17,
      padding: [5, 0, 0, 0],
      showMaxLabel: p === 0,
      verticalAlignMinLabel: 'bottom', verticalAlignMaxLabel: 'top',
      formatter: v => (Math.abs(v - 0.7) < 1e-6 ? '{m|0.7}' : v.toFixed(1)),
      rich: { m: { fontFamily: font, fontWeight: 300, fontSize: 23, color: '#333', lineHeight: 9 } }
    }
  }));
  yAxis.push(Object.assign({}, yCommon, { position: 'right', axisLabel: { show: false } }));

  series.push({
    type: 'custom', xAxisIndex: p * 2, yAxisIndex: p * 2, z: 2, silent: true,
    clip: false, data: idsData, renderItem: idsItem
  });
  series.push({
    type: 'line', xAxisIndex: p * 2, yAxisIndex: p * 2, z: 3, silent: true,
    data: spectra[p], showSymbol: false, clip: true, smooth: false,
    lineStyle: { color: '#000', width: 2 }
  });

  graphic.push({
    type: 'text', left: 114, top: top + 225, silent: true,
    style: { text: obNames[p], font: '300 18px ' + font, fill: '#444' }
  });
  graphic.push({
    type: 'text', left: 1044, top: top + 204, silent: true,
    style: { text: spTypes[p], font: '200 44px ' + font, fill: '#222' }
  });
});

graphic.push({
  type: 'text', silent: true, x: 13, y: 700, rotation: Math.PI / 2,
  style: { text: 'NORMALIZED FLUX', font: '300 17.5px ' + font, fill: '#333', align: 'center', verticalAlign: 'middle' }
});
graphic.push({
  type: 'text', silent: true, x: 666, y: 1677,
  style: { text: 'WAVELENGTH  (Å)', font: '300 21px ' + font, fill: '#333', align: 'center', verticalAlign: 'middle' }
});

const option = {
  animation: false,
  backgroundColor: '#fff',
  grid: grid,
  xAxis: xAxis,
  yAxis: yAxis,
  series: series,
  graphic: graphic
};

chart.setOption(option);
</script>
</body>
</html>
